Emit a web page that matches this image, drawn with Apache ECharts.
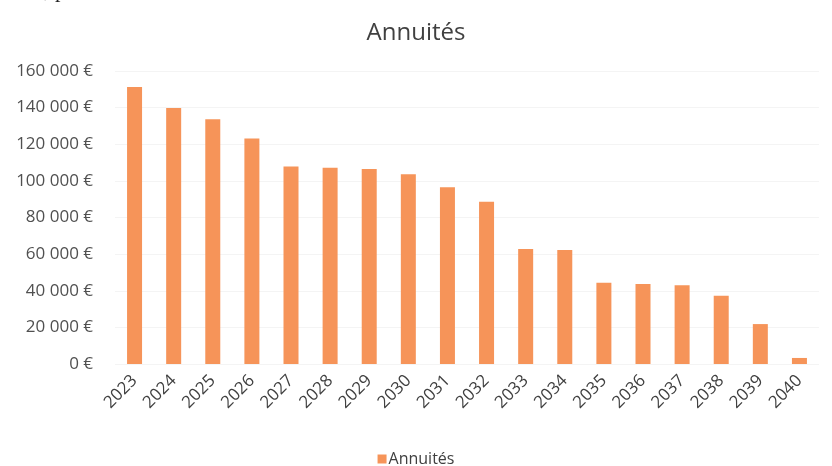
<!DOCTYPE html>
<html>
<head>
<meta charset="utf-8">
<script src="https://cdn.jsdelivr.net/npm/echarts@6/dist/echarts.min.js"></script>
<style>
  html, body { margin: 0; padding: 0; background: #fff; }
  #chart { width: 832px; height: 466px; }
</style>
</head>
<body>
<div id="chart"></div>
<script>
var years = ['2023','2024','2025','2026','2027','2028','2029','2030','2031',
             '2032','2033','2034','2035','2036','2037','2038','2039','2040'];
var annuites = [151300, 139800, 133600, 123200, 107800, 107200, 106500, 103600, 96500,
                88600, 62800, 62300, 44400, 43700, 43000, 37300, 21800, 3300];

function euro(v) {
    return String(v).replace(/\B(?=(\d{3})+(?!\d))/g, ' ') + ' €';
}

var chart = echarts.init(document.getElementById('chart'));
var option = {
    animation: false,
    textStyle: { fontFamily: 'Open Sans' },
    title: {
        text: 'Annuités',
        left: 'center',
        top: 16,
        textStyle: { fontSize: 24, fontWeight: 'normal', color: '#404040', fontFamily: 'Open Sans' }
    },
    // cropped line of text above the chart (only the descenders show)
    graphic: [
        {
            type: 'text',
            left: 44,
            top: -20,
            style: { text: ', p', font: '22px "Liberation Serif"', fill: '#222' }
        }
    ],
    legend: {
        data: ['Annuités'],
        bottom: -6,
        left: 'center',
        icon: 'rect',
        itemWidth: 9,
        itemHeight: 9,
        itemGap: 4,
        textStyle: { fontSize: 16, color: '#404040', padding: [0, 0, 0, -3] }
    },
    grid: {
        left: 115,
        right: 13,
        top: 71,
        bottom: 102,
        containLabel: false,
        outerBoundsMode: 'none'
    },
    xAxis: {
        type: 'category',
        data: years,
        axisLine: { show: false },
        axisTick: { show: false },
        axisLabel: {
            rotate: 45,
            interval: 0,
            margin: 14,
            fontSize: 17,
            color: '#404040'
        }
    },
    yAxis: {
        type: 'value',
        min: 0,
        max: 160000,
        interval: 20000,
        axisLine: { show: false },
        axisTick: { show: false },
        splitLine: { lineStyle: { color: '#f4f4f4' } },
        axisLabel: {
            margin: 22,
            fontSize: 17,
            color: '#505050',
            formatter: euro
        }
    },
    series: [
        {
            name: 'Annuités',
            type: 'bar',
            data: annuites,
            barWidth: 15,
            itemStyle: { color: '#F69459' }
        }
    ]
};
chart.setOption(option);
</script>
</body>
</html>
